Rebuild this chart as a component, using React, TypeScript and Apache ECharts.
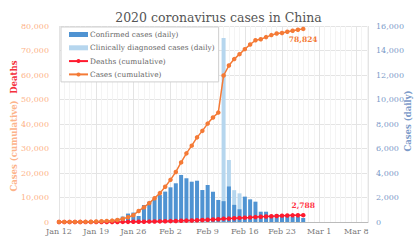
import React, { useEffect, useRef } from "react";
import * as echarts from "echarts";

const dates = [
  "2020-01-12","2020-01-13","2020-01-14","2020-01-15","2020-01-16","2020-01-17","2020-01-18",
  "2020-01-19","2020-01-20","2020-01-21","2020-01-22","2020-01-23","2020-01-24","2020-01-25",
  "2020-01-26","2020-01-27","2020-01-28","2020-01-29","2020-01-30","2020-01-31","2020-02-01",
  "2020-02-02","2020-02-03","2020-02-04","2020-02-05","2020-02-06","2020-02-07","2020-02-08",
  "2020-02-09","2020-02-10","2020-02-11","2020-02-12","2020-02-13","2020-02-14","2020-02-15",
  "2020-02-16","2020-02-17","2020-02-18","2020-02-19","2020-02-20","2020-02-21","2020-02-22",
  "2020-02-23","2020-02-24","2020-02-25","2020-02-26","2020-02-27"
];

const casesCumulative = [
  41, 41, 41, 41, 45, 62, 121,
  198, 291, 440, 571, 830, 1287, 1975,
  2744, 4515, 5974, 7711, 9692, 11791, 14380,
  17205, 20438, 24324, 28018, 31161, 34546, 37198,
  40171, 42638, 44653, 59804, 63851, 66492, 68500,
  70548, 72436, 74185, 74576, 75465, 76288, 76936,
  77150, 77658, 78064, 78497, 78824
];

const deathsCumulative = [
  1, 1, 1, 2, 2, 2, 3,
  3, 6, 9, 17, 25, 41, 56,
  80, 106, 132, 170, 213, 259, 304,
  361, 425, 490, 563, 636, 722, 811,
  908, 1016, 1113, 1367, 1380, 1523, 1665,
  1770, 1868, 2004, 2118, 2236, 2345, 2442,
  2592, 2663, 2715, 2744, 2788
];

const confirmedDaily = [
  0, 0, 0, 0, 4, 17, 59,
  77, 93, 149, 131, 259, 444, 688,
  769, 490, 1390, 1660, 1850, 2200, 2480,
  2830, 3160, 3840, 3570, 3290, 3370, 2610,
  3020, 2470, 1800, 1700, 2900, 1400, 1040,
  2070, 1850, 1660, 840, 840, 570, 620,
  420, 510, 410, 430, 330
];

const clinicalDaily = [
  0, 0, 0, 0, 0, 0, 0,
  0, 0, 0, 0, 0, 0, 0,
  0, 0, 0, 0, 0, 0, 0,
  0, 0, 0, 0, 0, 0, 0,
  0, 0, 0, 13330, 2160, 1200, 1300,
  0, 0, 0, 0, 0, 0, 0,
  0, 0, 0, 0, 0
];

const xTickLabels = ["Jan 12", "Jan 19", "Jan 26", "Feb 2", "Feb 9", "Feb 16", "Feb 23", "Mar 1", "Mar 8"];
const leftTicks = [0, 10000, 20000, 30000, 40000, 50000, 60000, 70000, 80000];
const rightTicks = [0, 2000, 4000, 6000, 8000, 10000, 12000, 14000, 16000];

const FONT = "DejaVu Serif";
const START = Date.UTC(2020, 0, 12);
const DAY = 86400000;
const dayIndex = (d: string) => (Date.parse(d + "T00:00:00Z") - START) / DAY;
const fmt = (v: number) => v.toLocaleString("en-US");

export default function App() {
  const ref = useRef<HTMLDivElement>(null);
  useEffect(() => {
    if (!ref.current) return;
    const chart = echarts.init(ref.current, undefined, { renderer: "svg" });
    const xs = dates.map(dayIndex);
    const last = dates.length - 1;
    chart.setOption({
      animation: false,
      textStyle: { fontFamily: FONT },
      title: {
        text: "2020 coronavirus cases in China",
        left: 213.5,
        textAlign: "center",
        top: 6,
        textStyle: { fontFamily: FONT, fontSize: 12.5, fontWeight: "normal", color: "#555" },
      },
      legend: {
        orient: "vertical",
        left: 61,
        top: 27,
        padding: [2, 4, 2, 7],
        itemGap: 2.3,
        itemWidth: 19,
        itemHeight: 5,
        backgroundColor: "#fff",
        borderColor: "#cfcfcf",
        borderWidth: 1,
        textStyle: { fontFamily: FONT, fontSize: 7.4, color: "#666", lineHeight: 11, padding: [0, 0, 0, -3] },
        data: [
          { name: "Confirmed cases (daily)", icon: "rect" },
          { name: "Clinically diagnosed cases (daily)", icon: "rect" },
          { name: "Deaths (cumulative)" },
          { name: "Cases (cumulative)" },
        ],
      },
      grid: { left: 59, right: 46, top: 26, bottom: 18 },
      xAxis: {
        type: "value",
        min: 0,
        max: 58.2,
        interval: 7,
        axisLine: { show: true, lineStyle: { color: "#bbb", width: 1 } },
        axisTick: { show: false },
        axisLabel: {
          fontFamily: FONT,
          fontSize: 8,
          color: "#777",
          margin: 5,
          formatter: (v: number) => (Math.abs(v / 7 - Math.round(v / 7)) < 1e-6 ? xTickLabels[Math.round(v / 7)] ?? "" : ""),
        },
        splitLine: { show: true, lineStyle: { color: "#e4e4e4", width: 1 } },
        minorTick: { show: false, splitNumber: 7 },
        minorSplitLine: { show: true, lineStyle: { color: "#f4f4f4", width: 1 } },
      },
      yAxis: [
        {
          type: "value",
          min: leftTicks[0],
          max: leftTicks[leftTicks.length - 1],
          interval: leftTicks[1] - leftTicks[0],
          axisLine: { show: false },
          axisTick: { show: false },
          axisLabel: { fontFamily: FONT, fontSize: 8, color: "#fdb38a", margin: 10, formatter: (v: number) => fmt(v) },
          splitLine: { show: true, lineStyle: { color: "#e4e4e4", width: 1 } },
        },
        {
          type: "value",
          position: "right",
          min: rightTicks[0],
          max: rightTicks[rightTicks.length - 1],
          interval: rightTicks[1] - rightTicks[0],
          axisLine: { show: false },
          axisTick: { show: false },
          axisLabel: { fontFamily: FONT, fontSize: 8, color: "#7d9bc9", margin: 8, formatter: (v: number) => fmt(v) },
          splitLine: { show: false },
        },
      ],
      graphic: [
        {
          type: "text",
          x: 14,
          y: 126,
          rotation: Math.PI / 2,
          style: {
            text: "{c|Cases (cumulative)}  {d|Deaths}",
            align: "center",
            verticalAlign: "middle",
            rich: {
              c: { fontFamily: FONT, fontSize: 8.5, fontWeight: "bold", fill: "#fdb38a" },
              d: { fontFamily: FONT, fontSize: 8.5, fontWeight: "bold", fill: "#f4303d" },
            },
          },
        },
        {
          type: "text",
          x: 407.5,
          y: 121,
          rotation: Math.PI / 2,
          style: {
            text: "Cases (daily)",
            align: "center",
            verticalAlign: "middle",
            fontFamily: FONT,
            fontSize: 8.5,
            fontWeight: "bold",
            fill: "#7d9bc9",
          },
        },
      ],
      series: [
        {
          name: "Clinically diagnosed cases (daily)",
          type: "bar",
          yAxisIndex: 1,
          barWidth: 4,
          barGap: "-100%",
          itemStyle: { color: "#b6d6ee" },
          // stacked on top of the confirmed cases: bar reaches confirmed + clinical
          data: xs.map((x, i) => [x, clinicalDaily[i] > 0 ? confirmedDaily[i] + clinicalDaily[i] : 0]),
          z: 1,
        },
        {
          name: "Confirmed cases (daily)",
          type: "bar",
          yAxisIndex: 1,
          barWidth: 4,
          barGap: "-100%",
          itemStyle: { color: "#4f93d2" },
          data: xs.map((x, i) => [x, confirmedDaily[i]]),
          z: 2,
        },
        {
          name: "Deaths (cumulative)",
          type: "line",
          yAxisIndex: 0,
          symbol: "circle",
          symbolSize: 4.5,
          lineStyle: { color: "#ff1a2e", width: 1.5 },
          itemStyle: { color: "#ff1a2e" },
          data: xs.map((x, i) =>
            i === last
              ? {
                  value: [x, deathsCumulative[i]],
                  label: {
                    show: true,
                    position: "top",
                    distance: 3,
                    formatter: fmt(deathsCumulative[i]),
                    fontFamily: FONT,
                    fontSize: 7.5,
                    fontWeight: "bold",
                    color: "#ff3344",
                  },
                }
              : [x, deathsCumulative[i]]
          ),
          z: 3,
        },
        {
          name: "Cases (cumulative)",
          type: "line",
          yAxisIndex: 0,
          symbol: "circle",
          symbolSize: 4.5,
          lineStyle: { color: "#f47a36", width: 1.5 },
          itemStyle: { color: "#f47a36" },
          data: xs.map((x, i) =>
            i === last
              ? {
                  value: [x, casesCumulative[i]],
                  label: {
                    show: true,
                    position: "bottom",
                    distance: 4,
                    formatter: fmt(casesCumulative[i]),
                    fontFamily: FONT,
                    fontSize: 7.5,
                    fontWeight: "bold",
                    color: "#f47a36",
                  },
                }
              : [x, casesCumulative[i]]
          ),
          z: 4,
        },
      ],
    });
    return () => chart.dispose();
  }, []);
  return <div ref={ref} style={{ width: 414, height: 240, position: "absolute", left: 0, top: 0 }} />;
}
